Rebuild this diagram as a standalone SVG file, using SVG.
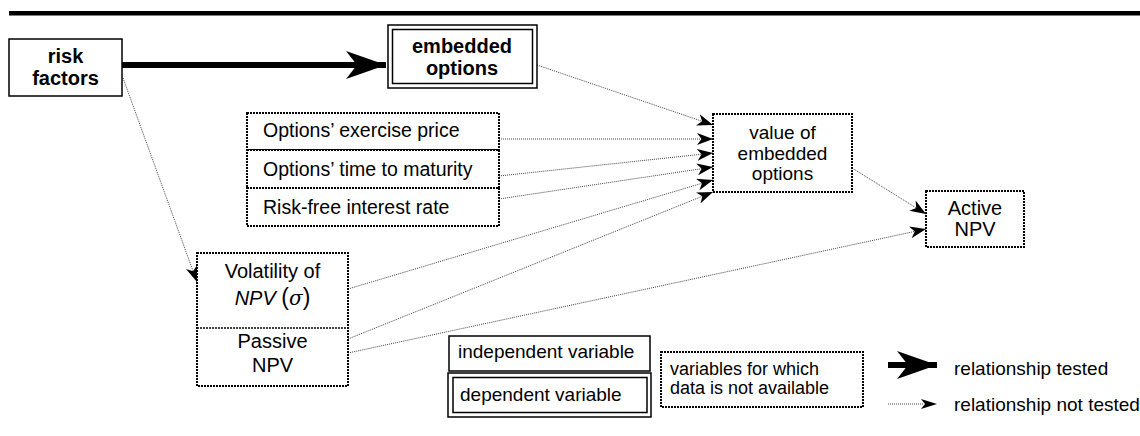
<svg xmlns="http://www.w3.org/2000/svg" width="1140" height="436" viewBox="0 0 1140 436">
  <style>
    text { font-family: "Liberation Sans", Arial, sans-serif; fill: #000; }
    .bold { font-weight: bold; font-size: 20px; text-anchor: middle; }
    .node { font-size: 20px; text-anchor: middle; }
    .tight { font-size: 19px; text-anchor: middle; }
    .item { font-size: 19.5px; }
    .leg { font-size: 19px; }
    .leg2 { font-size: 18px; }
    .solid { fill: #fff; stroke: #000; stroke-width: 1.5; }
    .dotted { fill: #fff; stroke: #000; stroke-width: 2; stroke-dasharray: 2 1; }
    .link { fill: none; stroke: #444; stroke-width: 1; stroke-dasharray: 1 1; marker-end: url(#thin); }
    .tested { fill: none; stroke: #000; stroke-width: 6; marker-end: url(#thick); }
  </style>
  <defs>
    <marker id="thin" viewBox="0 0 16 12" markerUnits="userSpaceOnUse" markerWidth="16" markerHeight="12" refX="16" refY="6" orient="auto">
      <path d="M0,0 L16,6 L0,12 L4.5,6 Z" fill="#000"/>
    </marker>
    <marker id="thick" viewBox="0 0 40 28" markerUnits="userSpaceOnUse" markerWidth="40" markerHeight="28" refX="40" refY="14" orient="auto">
      <path d="M0,0 L40,14 L0,28 L11,14 Z" fill="#000"/>
    </marker>
  </defs>

  <!-- header rule -->
  <rect x="9" y="11" width="1131" height="4.5" fill="#000"/>

  <!-- connectors -->
  <g id="connectors">
    <path class="tested" d="M122,65 L386,65"/>
    <path class="link" d="M123,78 L197,282"/>
    <path class="link" d="M537,65 L713,125"/>
    <path class="link" d="M499,139 L713,139"/>
    <path class="link" d="M499,176 L713,153"/>
    <path class="link" d="M499,199 L713,167"/>
    <path class="link" d="M348,289 L713,180"/>
    <path class="link" d="M348,339 L713,192"/>
    <path class="link" d="M348,353 L926,229"/>
    <path class="link" d="M852,168 L926,214"/>
  </g>

  <!-- risk factors -->
  <g id="risk-factors">
    <rect class="solid" x="9" y="39" width="113" height="57"/>
    <text class="bold" x="65.5" y="63">risk</text>
    <text class="bold" x="65.5" y="84.5">factors</text>
  </g>

  <!-- embedded options -->
  <g id="embedded-options">
    <rect class="solid" x="388" y="25" width="149" height="63"/>
    <rect class="solid" x="392.5" y="29.5" width="140" height="54"/>
    <text class="bold" x="462" y="53">embedded</text>
    <text class="bold" x="462" y="74.5">options</text>
  </g>

  <!-- option parameters -->
  <g id="exercise-price">
    <rect class="dotted" x="247" y="113" width="252" height="37"/>
    <text class="item" x="263" y="137">Options’ exercise price</text>
  </g>
  <g id="time-to-maturity">
    <rect class="dotted" x="247" y="150" width="252" height="38"/>
    <text class="item" x="263" y="176">Options’ time to maturity</text>
  </g>
  <g id="risk-free-rate">
    <rect class="dotted" x="247" y="188" width="252" height="38"/>
    <text class="item" x="263" y="214">Risk-free interest rate</text>
  </g>

  <!-- volatility / passive NPV -->
  <g id="volatility-passive">
    <rect class="dotted" x="197" y="253" width="151" height="133"/>
    <line x1="197" y1="328" x2="348" y2="328" stroke="#000" stroke-width="1.5" stroke-dasharray="2 1"/>
    <text class="node" x="272.5" y="278">Volatility of</text>
    <text class="node" x="272.5" y="305"><tspan font-style="italic">NPV</tspan> <tspan font-size="23px">(</tspan><tspan font-style="italic" font-family="'DejaVu Serif', serif">σ</tspan><tspan font-size="23px">)</tspan></text>
    <text class="node" x="272.5" y="348">Passive</text>
    <text class="node" x="272.5" y="372">NPV</text>
  </g>

  <!-- value of embedded options -->
  <g id="value-of-options">
    <rect class="dotted" x="713" y="114" width="139" height="78"/>
    <text class="tight" x="782.5" y="139">value of</text>
    <text class="tight" x="782.5" y="159.5">embedded</text>
    <text class="tight" x="782.5" y="180">options</text>
  </g>

  <!-- active NPV -->
  <g id="active-npv">
    <rect class="dotted" x="926" y="191" width="98" height="56"/>
    <text class="node" x="975" y="215">Active</text>
    <text class="node" x="975" y="235.5">NPV</text>
  </g>

  <!-- legend -->
  <g id="legend-independent">
    <rect class="solid" x="449" y="336" width="201" height="35"/>
    <text class="leg" x="458" y="358">independent variable</text>
  </g>
  <g id="legend-dependent">
    <rect class="solid" x="448" y="373" width="203" height="44"/>
    <rect class="solid" x="453" y="377.5" width="194" height="35"/>
    <text class="leg" x="460" y="401">dependent variable</text>
  </g>
  <g id="legend-unavailable">
    <rect class="dotted" x="661" y="352" width="202" height="55"/>
    <text class="leg2" x="670" y="375">variables for which</text>
    <text class="leg2" x="670" y="394">data is not available</text>
  </g>
  <g id="legend-arrows">
    <path class="tested" d="M888,365 L937,365"/>
    <text class="leg" x="954" y="375">relationship tested</text>
    <path d="M888,404 L924,404" fill="none" stroke="#444" stroke-width="1" stroke-dasharray="1 1"/>
    <path d="M921,399 L937,404 L921,409 L925,404 Z" fill="#000"/>
    <text class="leg" x="954" y="411">relationship not tested</text>
  </g>
</svg>
